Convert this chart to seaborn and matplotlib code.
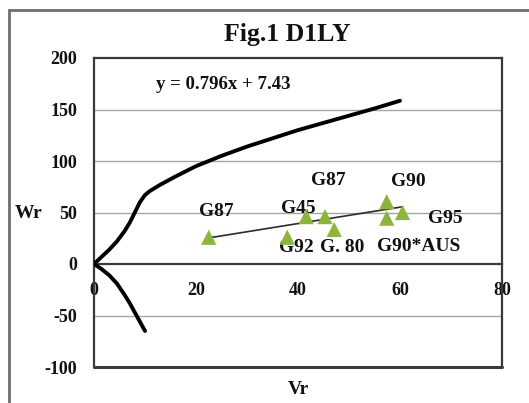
import numpy as np
import pandas as pd
import matplotlib
matplotlib.use("Agg")
import matplotlib.pyplot as plt
import seaborn as sns
from matplotlib.patches import Rectangle

sns.set_theme(style="white")
plt.rcParams['font.family'] = ['Liberation Serif', 'DejaVu Serif']

# ---- data ----
genotypes = ["G87", "G92", "G45", "G87", "G. 80", "G90", "G90*AUS", "G95"]
vr = [22.5, 37.9, 41.6, 45.3, 47.1, 57.4, 57.4, 60.5]
wr = [26.0, 26.0, 46.0, 46.0, 33.5, 60.5, 44.5, 50.0]

# label positions (data coords)
label_x = [24.0, 39.7, 40.0, 46.0, 48.6, 61.6, 63.6, 68.8]
label_y = [51.0, 16.0, 54.0, 81.5, 16.0, 80.0, 17.0, 44.0]

# limiting parabola (upper and lower branch)
upper_x = [0, 1.5, 3.0, 4.5, 6.0, 7.0, 8.0, 9.0, 10.0, 11.0, 13.0, 16.0, 20.0, 25.0, 30.0, 35.0, 40.0, 45.0, 50.0, 55.0, 60.0]
upper_y = [0, 7.0, 14.0, 22.0, 32.0, 40.0, 50.0, 60.0, 67.0, 71.0, 77.0, 85.0, 95.0, 105.0, 114.0, 122.0, 130.0, 137.0, 144.0, 151.0, 158.5]
lower_x = [0, 1.5, 3.0, 4.5, 6.0, 7.0, 8.0, 9.0, 10.0]
lower_y = [0, -5.0, -11.0, -19.0, -30.0, -38.0, -47.0, -56.0, -65.0]

slope, intercept = 0.796, 7.43
yticks = [-100, -50, 0, 50, 100, 150, 200]
xticks = [0, 20, 40, 60, 80]

# ---- figure ----
fig = plt.figure(figsize=(5.29, 4.03), dpi=100)
ax = fig.add_axes([94/529, 1-367/403, (502-94)/529, (367-58)/403])
ax.set_facecolor("white")

# outer chart frame (partially visible)
fig.patches.append(Rectangle((9/529, -0.2), 1.2, 1-10/403+0.2, transform=fig.transFigure,
                             fill=False, edgecolor="#6e6e6e", linewidth=2.0))

# gridlines
for yv in [-50, 50, 100, 150]:
    ax.axhline(yv, color="#a6a6a6", linewidth=1.0, zorder=0)

# curves
sns.lineplot(x=upper_x, y=upper_y, ax=ax, sort=False, color="black", linewidth=2.8, zorder=3)
sns.lineplot(x=lower_x, y=lower_y, ax=ax, sort=False, color="black", linewidth=2.8, zorder=3)

# regression line
rx = np.array([min(vr), max(vr)])
sns.lineplot(x=rx, y=slope*rx + intercept, ax=ax, color="#2b2b2b", linewidth=1.2, zorder=3)

# points
df = pd.DataFrame({"Vr": vr, "Wr": wr, "g": genotypes})
sns.scatterplot(data=df, x="Vr", y="Wr", ax=ax, marker="^", s=120, color="#8db53c",
                edgecolor="none", zorder=4)

for lx, ly, t in zip(label_x, label_y, genotypes):
    ax.text(lx, ly, t, ha="center", va="center", fontsize=14, fontweight="bold", color="#111111")

ax.text(25.3, 174, f"y = {slope}x + {intercept}", ha="center", va="center",
        fontsize=13.5, fontweight="bold", color="#111111")

ax.spines["bottom"].set_position(("data", 0))
ax.set_xlim(0, 80)
ax.set_ylim(-100, 200)
ax.set_xticks(xticks)
ax.set_yticks(yticks)
ax.set_xticklabels([str(v) for v in xticks], fontsize=13, fontweight="bold")
ax.set_yticklabels([str(v) for v in yticks], fontsize=13, fontweight="bold")

for s in ["top", "right", "left", "bottom"]:
    ax.spines[s].set_color("#3a3a3a")
    ax.spines[s].set_linewidth(1.6)
ax.axhline(-100, color="#3a3a3a", linewidth=2.2, clip_on=False, zorder=5)

ax.tick_params(axis="y", direction="out", length=6, width=1.4, color="#3a3a3a", pad=6, labelcolor="#111111")
ax.tick_params(axis="x", length=0, pad=13, labelcolor="#111111")
ax.set_xlabel("")
ax.set_ylabel("")

fig.text(287/529, 1-35/403, "Fig.1 D1LY", ha="center", va="center", fontsize=18.5, fontweight="bold", color="#111111")
fig.text(29/529, 1-213/403, "Wr", ha="center", va="center", fontsize=14, fontweight="bold", color="#111111")
fig.text(298/529, 1-389/403, "Vr", ha="center", va="center", fontsize=14, fontweight="bold", color="#111111")

fig.savefig("out.png", dpi=100)
